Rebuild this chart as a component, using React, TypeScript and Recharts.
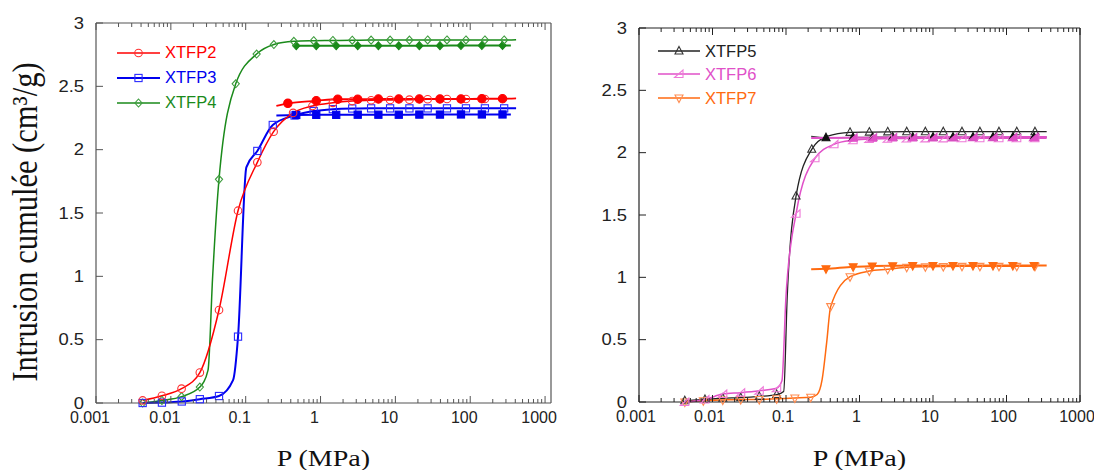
import React from 'react';
import { ComposedChart, Line, XAxis, YAxis, Legend } from 'recharts';

// [P (MPa), intrusion cumulée (cm3/g), 0 = point on the curve drawn without a marker]
type Pt = [number, number, number?];

// ─── Left panel: XTFP2 / XTFP3 / XTFP4 ────────────────────────────────────────
const XTFP2_INTR: Pt[] = [
    [0.0042, 0.02], [0.0076, 0.057], [0.0139, 0.113], [0.0244, 0.24], [0.044, 0.734],
    [0.079, 1.518], [0.143, 1.9], [0.236, 2.142], [0.43, 2.29], [0.78, 2.345],
    [1.46, 2.37], [2.65, 2.384], [4.74, 2.39], [8.5, 2.392], [15.4, 2.395],
    [27, 2.398], [48.9, 2.4], [87.7, 2.4], [157, 2.4],
];
const XTFP2_EXTR: Pt[] = [
    [0.257, 2.345, 0], [0.366, 2.366], [0.877, 2.386], [1.7, 2.398], [3.14, 2.398],
    [5.93, 2.4], [11.1, 2.4], [20.9, 2.4], [39.4, 2.4], [75.2, 2.4],
    [143, 2.402], [270, 2.402], [410, 2.405, 0],
];
const XTFP3_INTR: Pt[] = [
    [0.0042, 0.0], [0.0076, 0.003], [0.014, 0.012], [0.0244, 0.03], [0.044, 0.055],
    [0.0678, 0.18, 0], [0.079, 0.524], [0.102, 1.86, 0], [0.143, 1.99], [0.23, 2.195],
    [0.45, 2.27], [0.81, 2.305], [1.46, 2.32], [2.65, 2.325], [4.74, 2.326],
    [8.5, 2.326], [15.4, 2.326], [27, 2.326], [48.9, 2.326], [87.7, 2.326],
    [157, 2.326], [284, 2.326], [410, 2.326, 0],
];
const XTFP3_EXTR: Pt[] = [
    [0.257, 2.27, 0], [0.474, 2.274], [0.877, 2.275], [1.62, 2.275], [3.14, 2.276],
    [5.93, 2.276], [11.1, 2.276], [20.9, 2.277], [39.4, 2.277], [75.2, 2.278],
    [143, 2.278], [270, 2.278], [349, 2.278, 0],
];
const XTFP4_INTR: Pt[] = [
    [0.0042, 0.0], [0.0076, 0.02], [0.0139, 0.05], [0.0244, 0.126], [0.0314, 0.26, 0],
    [0.0362, 1.0, 0], [0.044, 1.766], [0.0736, 2.52], [0.14, 2.755], [0.238, 2.83],
    [0.44, 2.855], [0.81, 2.86], [1.46, 2.862], [2.65, 2.864], [4.74, 2.865],
    [8.5, 2.865], [15.4, 2.865], [27, 2.866], [48.9, 2.866], [87.7, 2.866],
    [157, 2.866], [284, 2.866], [410, 2.868, 0],
];
const XTFP4_EXTR: Pt[] = [
    [0.474, 2.82], [0.877, 2.82], [1.62, 2.82], [3.14, 2.82], [5.93, 2.82],
    [11.1, 2.82], [20.9, 2.821], [39.4, 2.821], [75.2, 2.822], [143, 2.822],
    [270, 2.822], [349, 2.822, 0],
];

// ─── Right panel: XTFP5 / XTFP6 / XTFP7 ───────────────────────────────────────
const XTFP5_INTR: Pt[] = [
    [0.0042, 0.01], [0.0079, 0.02], [0.0138, 0.03], [0.0242, 0.035], [0.0433, 0.045],
    [0.0747, 0.06], [0.093, 0.085, 0], [0.104, 0.85, 0], [0.137, 1.652], [0.224, 2.027],
    [0.36, 2.13, 0], [0.743, 2.163], [1.36, 2.165], [2.42, 2.167], [4.39, 2.168],
    [7.87, 2.168], [13.8, 2.168], [24.8, 2.168], [43.5, 2.168], [79, 2.168],
    [138, 2.168], [244, 2.168], [352, 2.168, 0],
];
const XTFP5_EXTR: Pt[] = [
    [0.22, 2.13, 0], [0.35, 2.12], [0.817, 2.122], [1.51, 2.124], [2.83, 2.125],
    [5.3, 2.125], [10, 2.125], [18.7, 2.125], [35, 2.125], [65.5, 2.125],
    [122, 2.125], [237, 2.125], [352, 2.125, 0],
];
const XTFP6_INTR: Pt[] = [
    [0.0042, 0.0], [0.0079, 0.02], [0.0138, 0.064], [0.0242, 0.075], [0.0433, 0.09],
    [0.0747, 0.11], [0.088, 0.17, 0], [0.1, 0.85, 0], [0.137, 1.51], [0.248, 1.955],
    [0.45, 2.067], [0.82, 2.1], [1.36, 2.11], [2.42, 2.112], [4.39, 2.114],
    [7.87, 2.115], [13.8, 2.115], [24.8, 2.116], [43.5, 2.116], [79, 2.116],
    [138, 2.116], [244, 2.116], [352, 2.116, 0],
];
const XTFP6_EXTR: Pt[] = [
    [0.22, 2.118, 0], [0.817, 2.12], [1.51, 2.12], [2.83, 2.122], [5.3, 2.122],
    [10, 2.123], [18.7, 2.123], [35, 2.124], [65.5, 2.124], [122, 2.125],
    [237, 2.125], [352, 2.125, 0],
];
const XTFP7_INTR: Pt[] = [
    [0.0042, 0.0], [0.0075, 0.01], [0.0138, 0.016], [0.0242, 0.02], [0.0433, 0.02],
    [0.0747, 0.026], [0.132, 0.032], [0.217, 0.038], [0.265, 0.06, 0], [0.31, 0.18, 0],
    [0.358, 0.48, 0], [0.405, 0.765], [0.743, 1.005], [1.36, 1.05], [2.42, 1.064],
    [4.39, 1.08], [7.87, 1.085], [13.8, 1.087], [24.8, 1.088], [43.5, 1.088],
    [79, 1.088], [138, 1.088], [244, 1.088],
];
const XTFP7_EXTR: Pt[] = [
    [0.22, 1.064, 0], [0.35, 1.068], [0.82, 1.085], [1.49, 1.09], [2.83, 1.093],
    [5.3, 1.095], [10, 1.095], [18.7, 1.095], [35, 1.095], [65.5, 1.095],
    [122, 1.095], [237, 1.095], [352, 1.095, 0],
];

// ─── Axes ──────────────────────────────────────────────────────────────────────
const X_MAJOR = [0.001, 0.01, 0.1, 1, 10, 100, 1000];
const X_MINOR_FACTORS = [2, 3, 4, 5, 6, 7, 8, 9];
const Y_TICKS = [0, 0.5, 1, 1.5, 2, 2.5, 3];
const X_TICKS = X_MAJOR.flatMap((d, i) =>
    i < X_MAJOR.length - 1 ? [d, ...X_MINOR_FACTORS.map(f => +(d * f).toPrecision(3))] : [d]);

const FONT_SANS = '"Liberation Sans", Arial, sans-serif';
const FONT_SERIF = '"Liberation Serif", "Times New Roman", serif';

type Marker = 'circle' | 'square' | 'diamond' | 'up' | 'wedge' | 'down';

interface Series {
    key: string;
    name?: string;
    pts: Pt[];
    color: string;
    markColor: string;
    marker: Marker;
    filled: boolean;
    width: number;
}

const LEFT_SERIES: Series[] = [
    { key: 'x4e', pts: XTFP4_EXTR, color: '#1a8a1a', markColor: '#1a8a1a', marker: 'diamond', filled: true, width: 2 },
    { key: 'x4i', name: 'XTFP4', pts: XTFP4_INTR, color: '#1a8a1a', markColor: '#3d9c3d', marker: 'diamond', filled: false, width: 1.5 },
    { key: 'x3i', name: 'XTFP3', pts: XTFP3_INTR, color: '#0000ee', markColor: '#2a2aff', marker: 'square', filled: false, width: 2 },
    { key: 'x3e', pts: XTFP3_EXTR, color: '#0000ee', markColor: '#0000ee', marker: 'square', filled: true, width: 2 },
    { key: 'x2i', name: 'XTFP2', pts: XTFP2_INTR, color: '#ff0000', markColor: '#ff3030', marker: 'circle', filled: false, width: 1.5 },
    { key: 'x2e', pts: XTFP2_EXTR, color: '#ff0000', markColor: '#ff0000', marker: 'circle', filled: true, width: 1.8 },
];
const LEFT_LEGEND = ['XTFP2', 'XTFP3', 'XTFP4'];

const RIGHT_SERIES: Series[] = [
    { key: 'x5i', name: 'XTFP5', pts: XTFP5_INTR, color: '#222222', markColor: '#333333', marker: 'up', filled: false, width: 1.3 },
    { key: 'x5e', pts: XTFP5_EXTR, color: '#444444', markColor: '#111111', marker: 'up', filled: true, width: 1.3 },
    { key: 'x7i', name: 'XTFP7', pts: XTFP7_INTR, color: '#ff6a10', markColor: '#ff8c50', marker: 'down', filled: false, width: 1.5 },
    { key: 'x7e', pts: XTFP7_EXTR, color: '#ff6a10', markColor: '#ff6a10', marker: 'down', filled: true, width: 2 },
    { key: 'x6i', name: 'XTFP6', pts: XTFP6_INTR, color: '#e050c8', markColor: '#ee7ad8', marker: 'wedge', filled: false, width: 1.5 },
    { key: 'x6e', pts: XTFP6_EXTR, color: '#e050c8', markColor: '#e050c8', marker: 'wedge', filled: true, width: 2 },
];
const RIGHT_LEGEND = ['XTFP5', 'XTFP6', 'XTFP7'];

// ─── Helpers ───────────────────────────────────────────────────────────────────
const rows = (pts: Pt[]) => pts.map(([p, v, m]) => ({ p, v, m: m === undefined ? 1 : m }));

function markerShape(kind: Marker, cx: number, cy: number, color: string, filled: boolean) {
    const st = { fill: filled ? color : 'none', stroke: color, strokeWidth: 1.1 };
    switch (kind) {
        case 'circle':
            return <circle cx={cx} cy={cy} r={filled ? 4.2 : 3.8} {...st} />;
        case 'square':
            return <rect x={cx - 3.6} y={cy - 3.6} width={7.2} height={7.2} {...st} />;
        case 'diamond':
            return <polygon points={`${cx},${cy - 4} ${cx + 3.6},${cy} ${cx},${cy + 4} ${cx - 3.6},${cy}`} {...st} />;
        case 'up':
            return <polygon points={`${cx},${cy - 4.5} ${cx + 4},${cy + 3} ${cx - 4},${cy + 3}`} {...st} />;
        case 'wedge':
            return <polygon points={`${cx + 4},${cy - 4} ${cx + 4},${cy + 3.5} ${cx - 4.5},${cy + 3.5}`} {...st} />;
        default:
            return <polygon points={`${cx - 4},${cy - 3} ${cx + 4},${cy - 3} ${cx},${cy + 4.5}`} {...st} />;
    }
}

const dotFor = (s: Series) => (p: any) => {
    const k = `${s.key}-${p.index}`;
    if (!p.payload || p.payload.m === 0 || p.cx == null || p.cy == null) return <g key={k} />;
    return <g key={k}>{markerShape(s.marker, p.cx, p.cy, s.markColor, s.filled)}</g>;
};

const isMajor = (v: number) => Math.abs(Math.log10(v) - Math.round(Math.log10(v))) < 1e-6;

const XTick = ({ x, y, payload, side, color, shift }: any) => {
    const major = isMajor(payload.value);
    const len = major ? 7 : 4;
    const dir = side === 'top' ? 1 : -1;
    return (
        <g>
            <line x1={x} x2={x} y1={y} y2={y + dir * len} stroke={color} strokeWidth={1} />
            {side === 'bottom' && major && (
                <text x={x + (shift ?? 0)} y={y + 20} textAnchor="middle" fontFamily={FONT_SANS} fontSize={16} fill="#222">
                    {String(payload.value)}
                </text>
            )}
        </g>
    );
};

const YTick = ({ x, y, payload, side, color }: any) => {
    const dir = side === 'left' ? 1 : -1;
    return (
        <g>
            <line x1={x} x2={x + dir * 7} y1={y} y2={y} stroke={color} strokeWidth={1} />
            {side === 'left' && (
                <text transform={`translate(${x - 12},${y}) scale(1.15,1)`} textAnchor="end" dy="0.36em"
                    fontFamily={FONT_SANS} fontSize={16} fill="#222">
                    {String(payload.value)}
                </text>
            )}
        </g>
    );
};

const TitleText = ({ tx, ty, text, rotate, size }: any) => (
    <text transform={`translate(${tx},${ty}) scale(1.17,1)${rotate ? ' rotate(-90)' : ''}`} textAnchor="middle"
        fontFamily={FONT_SERIF} fontSize={size} fill="#111">
        {text}
    </text>
);

function LegendBox({ items, rowH, lineW }: { items: Series[]; rowH: number; lineW: number }) {
    return (
        <div style={{ fontFamily: FONT_SANS, fontSize: 16.5, lineHeight: 1 }}>
            {items.map(it => (
                <div key={it.key} style={{ display: 'flex', alignItems: 'center', height: rowH }}>
                    <svg width={lineW} height={12} style={{ overflow: 'visible' }}>
                        <line x1={0} x2={lineW} y1={6} y2={6} stroke={it.color} strokeWidth={it.width} />
                        {markerShape(it.marker, lineW / 2, 6, it.markColor, false)}
                    </svg>
                    <span style={{ marginLeft: 5, color: it.color }}>{it.name}</span>
                </div>
            ))}
        </div>
    );
}

// ─── Panel ─────────────────────────────────────────────────────────────────────
interface PanelProps {
    series: Series[];
    legendNames: string[];
    width: number;
    plot: { left: number; top: number; right: number; bottom: number }; // plot frame, in panel pixels
    xMax: number;
    axisColor: string;
    labelShift: number;
    yTitle?: string;
    legendLeft: number;
    legendTop: number;
    rowH: number;
    lineW: number;
}

function Panel({ series, legendNames, width, plot, xMax, axisColor, labelShift, yTitle, legendLeft, legendTop, rowH, lineW }: PanelProps) {
    const height = 470;
    // every axis takes 1px of room, the frame lines sit on the plot edges
    const margin = { top: plot.top - 1, left: plot.left - 1, right: width - plot.right - 1, bottom: height - plot.bottom - 1 };
    const xTicks = X_TICKS.filter(t => t <= xMax);
    const plotCx = (plot.left + plot.right) / 2;
    const legendItems = legendNames.map(n => series.find(s => s.name === n)!);
    const axisLine = { stroke: axisColor, strokeWidth: 1.2 };
    return (
        <ComposedChart width={width} height={height} margin={margin} style={{ overflow: 'visible' }}>
            <XAxis xAxisId="b" dataKey="p" type="number" scale="log" domain={[0.001, xMax]} allowDataOverflow
                ticks={xTicks} interval={0} height={1} tickSize={0} tickMargin={0} tickLine={false}
                axisLine={axisLine} tick={(t: any) => <XTick {...t} side="bottom" color={axisColor} shift={labelShift} />}
                label={<TitleText tx={plotCx} ty={466} text="P (MPa)" size={24} />} />
            <XAxis xAxisId="t" orientation="top" dataKey="p" type="number" scale="log" domain={[0.001, xMax]}
                allowDataOverflow ticks={xTicks} interval={0} height={1} tickSize={0} tickMargin={0} tickLine={false}
                axisLine={axisLine} tick={(t: any) => <XTick {...t} side="top" color={axisColor} />} />
            <YAxis yAxisId="l" type="number" domain={[0, 3]} ticks={Y_TICKS} interval={0} width={1}
                tickSize={0} tickMargin={0} tickLine={false} axisLine={axisLine}
                tick={(t: any) => <YTick {...t} side="left" color={axisColor} />}
                label={yTitle ? <TitleText tx={37} ty={222} text={yTitle} rotate size={30.5} /> : undefined} />
            <YAxis yAxisId="r" orientation="right" type="number" domain={[0, 3]} ticks={Y_TICKS} interval={0}
                width={1} tickSize={0} tickMargin={0} tickLine={false} axisLine={axisLine}
                tick={(t: any) => <YTick {...t} side="right" color={axisColor} />} />
            {series.map(s => (
                <Line key={s.key} xAxisId="b" yAxisId="l" data={rows(s.pts)} dataKey="v" name={s.name ?? s.key}
                    type="monotone" stroke={s.color} strokeWidth={s.width} dot={dotFor(s)} activeDot={false}
                    legendType={s.name ? 'line' : 'none'} isAnimationActive={false} />
            ))}
            <Legend layout="horizontal" align="center" verticalAlign="middle"
                wrapperStyle={{ left: legendLeft, top: legendTop, width: 'auto' }}
                content={() => <LegendBox items={legendItems} rowH={rowH} lineW={lineW} />} />
        </ComposedChart>
    );
}

export default function App() {
    return (
        <div style={{ position: 'absolute', left: 0, top: 0, width: 1094, height: 470, background: '#fff', overflow: 'hidden' }}>
            <div style={{ position: 'absolute', left: 0, top: 0 }}>
                <Panel series={LEFT_SERIES} legendNames={LEFT_LEGEND} width={580}
                    plot={{ left: 96, top: 23, right: 551, bottom: 403 }} xMax={1200} axisColor="#555" labelShift={-6}
                    yTitle="Intrusion cumulée (cm³/g)" legendLeft={117} legendTop={40} rowH={25} lineW={43} />
            </div>
            <div style={{ position: 'absolute', left: 580, top: 0 }}>
                <Panel series={RIGHT_SERIES} legendNames={RIGHT_LEGEND} width={514}
                    plot={{ left: 59, top: 28, right: 500, bottom: 402 }} xMax={1000} axisColor="#222" labelShift={-3}
                    legendLeft={78} legendTop={39} rowH={23.5} lineW={42} />
            </div>
        </div>
    );
}
